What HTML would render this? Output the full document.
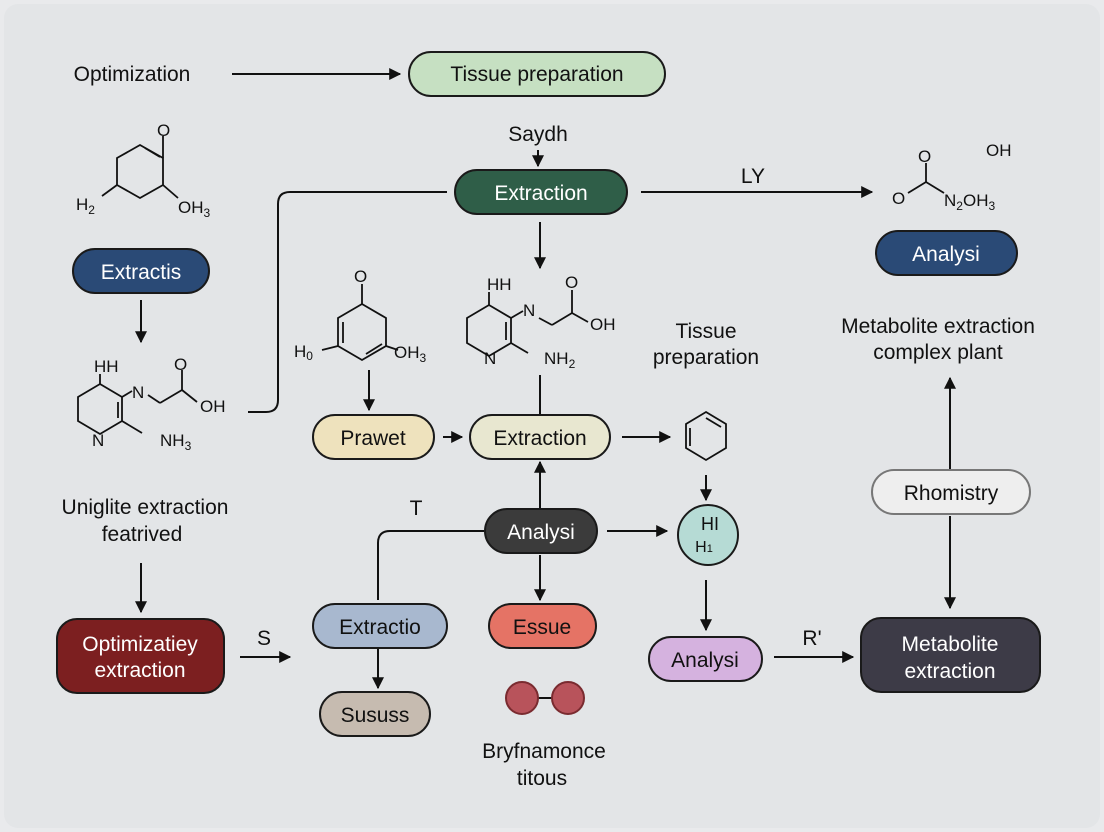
<!DOCTYPE html>
<html><head><style>
html,body{margin:0;padding:0;background:#e4e6e8;}
svg{display:block;font-family:"Liberation Sans",sans-serif;}
</style></head><body>
<svg width="1104" height="832" viewBox="0 0 1104 832" xmlns="http://www.w3.org/2000/svg">
<defs>
<marker id="a" viewBox="0 0 10 10" refX="9" refY="5" markerWidth="12" markerHeight="12" orient="auto-start-reverse" markerUnits="userSpaceOnUse"><path d="M0,0 L10,5 L0,10 z" fill="#111"/></marker>
</defs>
<rect x="0" y="0" width="1104" height="832" fill="#e9eaec"/>
<rect x="4" y="4" width="1096" height="824" rx="14" fill="#e3e5e7"/>
<g stroke="#111" stroke-width="2" fill="none">
<line x1="232" y1="74" x2="400" y2="74" marker-end="url(#a)"/>
<line x1="538" y1="150" x2="538" y2="166" marker-end="url(#a)"/>
<line x1="641" y1="192" x2="872" y2="192" marker-end="url(#a)"/>
<line x1="540" y1="222" x2="540" y2="268" marker-end="url(#a)"/>
<path d="M447,192 H290 Q278,192 278,204 V400 Q278,412 266,412 H248"/>
<line x1="141" y1="300" x2="141" y2="342" marker-end="url(#a)"/>
<line x1="369" y1="370" x2="369" y2="410" marker-end="url(#a)"/>
<line x1="443" y1="437" x2="462" y2="437" marker-end="url(#a)"/>
<line x1="540" y1="375" x2="540" y2="415"/>
<line x1="622" y1="437" x2="670" y2="437" marker-end="url(#a)"/>
<line x1="540" y1="508" x2="540" y2="462" marker-end="url(#a)"/>
<line x1="706" y1="475" x2="706" y2="500" marker-end="url(#a)"/>
<line x1="607" y1="531" x2="667" y2="531" marker-end="url(#a)"/>
<path d="M484,531 H390 Q378,531 378,543 V600"/>
<line x1="540" y1="555" x2="540" y2="600" marker-end="url(#a)"/>
<line x1="378" y1="648" x2="378" y2="688" marker-end="url(#a)"/>
<line x1="706" y1="580" x2="706" y2="630" marker-end="url(#a)"/>
<line x1="141" y1="563" x2="141" y2="612" marker-end="url(#a)"/>
<line x1="240" y1="657" x2="290" y2="657" marker-end="url(#a)"/>
<line x1="774" y1="657" x2="853" y2="657" marker-end="url(#a)"/>
<line x1="950" y1="470" x2="950" y2="378" marker-end="url(#a)"/>
<line x1="950" y1="516" x2="950" y2="608" marker-end="url(#a)"/>
<line x1="538" y1="698" x2="552" y2="698"/>
</g>
<g stroke="#111" stroke-width="1.8" fill="none">
<path d="M117,158 L140,145 L163,158 L163,185 L140,198 L117,185 Z"/><line x1="145" y1="148" x2="160" y2="157"/>
<line x1="163" y1="158" x2="163" y2="136"/><line x1="163" y1="185" x2="178" y2="198"/><line x1="117" y1="185" x2="102" y2="196"/>
<path d="M100,384 L122,397 L122,421 L100,434 L78,421 L78,397 Z"/><line x1="118" y1="402" x2="118" y2="418"/><line x1="100" y1="384" x2="100" y2="374"/>
<line x1="122" y1="397" x2="132" y2="391"/><line x1="148" y1="395" x2="160" y2="403"/><line x1="160" y1="403" x2="182" y2="390"/><line x1="182" y1="390" x2="182" y2="370"/><line x1="182" y1="390" x2="197" y2="402"/>
<line x1="122" y1="421" x2="142" y2="433"/>
<path d="M338,318 L362,304 L386,318 L386,346 L362,360 L338,346 Z"/><line x1="343" y1="322" x2="343" y2="343"/><line x1="366" y1="354" x2="382" y2="344"/>
<line x1="362" y1="304" x2="362" y2="284"/><line x1="338" y1="346" x2="322" y2="350"/><line x1="386" y1="346" x2="398" y2="350"/>
<path d="M467,318 L489,305 L511,318 L511,343 L489,356 L467,343 Z"/><line x1="489" y1="305" x2="489" y2="292"/><line x1="506" y1="322" x2="506" y2="340"/>
<line x1="511" y1="318" x2="523" y2="311"/><line x1="539" y1="318" x2="552" y2="325"/><line x1="552" y1="325" x2="572" y2="313"/><line x1="572" y1="313" x2="572" y2="290"/><line x1="572" y1="313" x2="588" y2="322"/><line x1="511" y1="343" x2="528" y2="353"/>
<path d="M706,412 L726,424 L726,448 L706,460 L686,448 L686,424 Z"/><line x1="690" y1="428" x2="690" y2="446"/><line x1="706" y1="418" x2="721" y2="427"/>
<line x1="908" y1="193" x2="926" y2="182"/><line x1="926" y1="182" x2="926" y2="163"/><line x1="926" y1="182" x2="944" y2="193"/>
</g>
<g font-size="17" fill="#111">
<text x="157" y="136">O</text><text x="76" y="210">H<tspan font-size="12" dy="4">2</tspan></text><text x="178" y="213">OH<tspan font-size="12" dy="4">3</tspan></text>
<text x="94" y="372">HH</text><text x="132" y="398">N</text><text x="174" y="370">O</text><text x="200" y="412">OH</text><text x="92" y="446">N</text><text x="160" y="446">NH<tspan font-size="12" dy="4">3</tspan></text>
<text x="354" y="282">O</text><text x="294" y="357">H<tspan font-size="12" dy="3">0</tspan></text><text x="394" y="358">OH<tspan font-size="12" dy="4">3</tspan></text>
<text x="487" y="290">HH</text><text x="523" y="316">N</text><text x="565" y="288">O</text><text x="590" y="330">OH</text><text x="484" y="364">N</text><text x="544" y="364">NH<tspan font-size="12" dy="4">2</tspan></text>
<text x="918" y="162">O</text><text x="986" y="156">OH</text><text x="892" y="204">O</text><text x="944" y="206">N<tspan font-size="12" dy="4">2</tspan><tspan dy="-4">OH</tspan><tspan font-size="12" dy="4">3</tspan></text>
</g>
<g stroke="#1a1a1a" stroke-width="2">
<rect x="409" y="52" width="256" height="44" rx="22" fill="#c6e0c2"/>
<rect x="455" y="170" width="172" height="44" rx="22" fill="#2f5e48"/>
<rect x="876" y="231" width="141" height="44" rx="22" fill="#2a4a76"/>
<rect x="73" y="249" width="136" height="44" rx="22" fill="#2a4a76"/>
<rect x="313" y="415" width="121" height="44" rx="22" fill="#eee2bd"/>
<rect x="470" y="415" width="140" height="44" rx="22" fill="#e8e7d0"/>
<rect x="485" y="509" width="112" height="44" rx="22" fill="#3b3b3b"/>
<rect x="872" y="470" width="158" height="44" rx="22" fill="#eeeeee" stroke="#777"/>
<rect x="57" y="619" width="167" height="74" rx="20" fill="#7c1f20"/>
<rect x="313" y="604" width="134" height="44" rx="22" fill="#a8b8cf"/>
<rect x="489" y="604" width="107" height="44" rx="22" fill="#e57365"/>
<rect x="320" y="692" width="110" height="44" rx="22" fill="#c6bbb0"/>
<rect x="649" y="637" width="113" height="44" rx="22" fill="#d5b2df"/>
<rect x="861" y="618" width="179" height="74" rx="20" fill="#3d3b47"/>
<circle cx="708" cy="535" r="30" fill="#b6dbd5"/>
<circle cx="522" cy="698" r="16" fill="#b8535b" stroke="#7a2b30"/>
<circle cx="568" cy="698" r="16" fill="#b8535b" stroke="#7a2b30"/>
</g>
<g font-size="21" text-anchor="middle" fill="#111">
<text x="537" y="81">Tissue preparation</text>
<text x="541" y="200" fill="#fff">Extraction</text>
<text x="946" y="261" fill="#fff">Analysi</text>
<text x="141" y="279" fill="#fff">Extractis</text>
<text x="373" y="445">Prawet</text>
<text x="540" y="445">Extraction</text>
<text x="541" y="539" fill="#fff">Analysi</text>
<text x="951" y="500">Rhomistry</text>
<text x="140" y="651" fill="#fff">Optimizatiey</text><text x="140" y="677" fill="#fff">extraction</text>
<text x="380" y="634">Extractio</text>
<text x="542" y="634">Essue</text>
<text x="375" y="722">Sususs</text>
<text x="705" y="667">Analysi</text>
<text x="950" y="651" fill="#fff">Metabolite</text><text x="950" y="678" fill="#fff">extraction</text>
<text x="132" y="81">Optimization</text>
<text x="538" y="141">Saydh</text>
<text x="753" y="183">LY</text>
<text x="706" y="338">Tissue</text><text x="706" y="364">preparation</text>
<text x="938" y="333">Metabolite extraction</text><text x="938" y="359">complex plant</text>
<text x="145" y="514">Uniglite extraction</text><text x="142" y="541">featrived</text>
<text x="416" y="515">T</text>
<text x="264" y="645">S</text>
<text x="812" y="645">R'</text>
<text x="544" y="758">Bryfnamonce</text><text x="542" y="785">titous</text>
<text x="710" y="530" font-size="18">HI</text><text x="704" y="552" font-size="16">H<tspan font-size="11">1</tspan></text>
</g>
</svg>
</body></html>
